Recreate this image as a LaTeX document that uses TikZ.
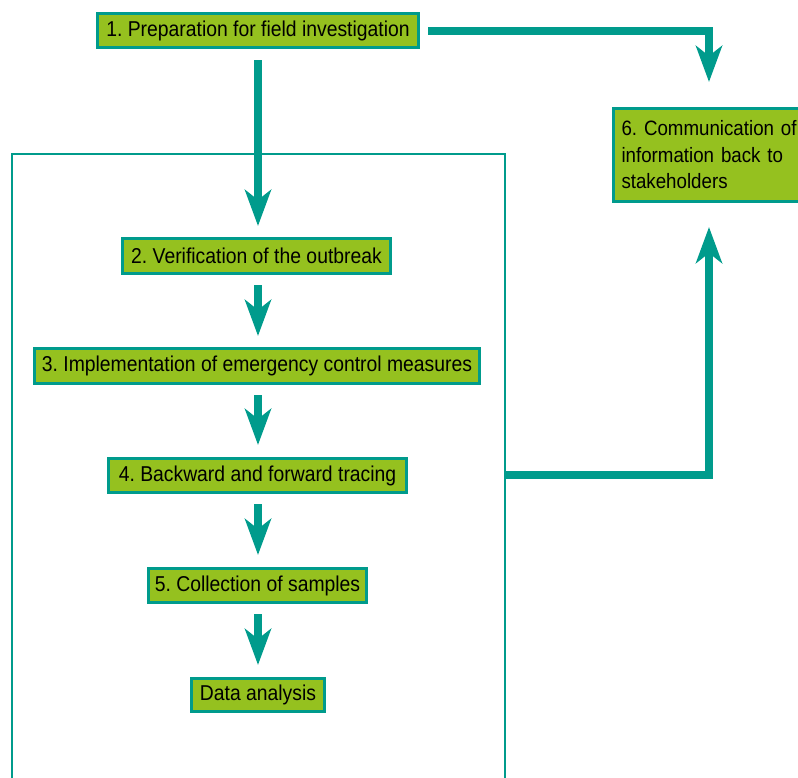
\documentclass[tikz,border=0pt]{standalone}
\usepackage{fontspec}
\setmainfont{Liberation Sans}[FakeStretch=0.9]
\usetikzlibrary{arrows.meta}
\definecolor{tealc}{HTML}{009B8C}
\definecolor{limec}{HTML}{95C11F}
\begin{document}
\frenchspacing
\begin{tikzpicture}[x=1pt,y=-1pt,
  box/.style={draw=tealc,fill=limec,line width=3pt,inner sep=0pt,
    font=\fontsize{21.5}{27}\selectfont,text=black},
  flow/.style={draw=tealc,line width=8pt,
    -{Stealth[length=36pt,width=26pt,inset=10pt]}},
  framel/.style={draw=tealc,line width=2pt}]
\useasboundingbox (0,0) rectangle (798,777);
% frame
\draw[framel] (11.5,800) -- (11.5,154) -- (504.5,154) -- (504.5,800);
\coordinate (fr) at (504.5,475);
% boxes
\node[box,minimum width=321pt,minimum height=34pt] (b1) at (258,30.5) {1. Preparation for field investigation};
\node[box,minimum width=268pt,minimum height=35pt] (b2) at (256.5,256) {2. Verification of the outbreak};
\node[box,minimum width=445pt,minimum height=35pt] (b3) at (257,366) {3. Implementation of emergency control measures};
\node[box,minimum width=298pt,minimum height=34pt] (b4) at (257.5,475.5) {4. Backward and forward tracing};
\node[box,minimum width=218pt,minimum height=34pt] (b5) at (257.5,585.5) {5. Collection of samples};
\node[box,minimum width=133pt,minimum height=33pt] (da) at (258,695) {Data analysis};
\node[box,anchor=north west,minimum height=93pt,font=\fontsize{20.8}{26.5}\selectfont,
  text width=190pt,align=left,inner xsep=8pt] (b6) at (612,107)
  {6. Communication of\\information back to\\stakeholders};
% connectors
\draw[flow,shorten <=11pt,shorten >=11pt] (b1.south) -- (b1.south |- b2.north);
\draw[flow,shorten <=10pt,shorten >=11pt] (b2.south -| b1.south) -- (b1.south |- b3.north);
\draw[flow,shorten <=10pt,shorten >=12pt] (b3.south -| b1.south) -- (b1.south |- b4.north);
\draw[flow,shorten <=10pt,shorten >=12pt] (b4.south -| b1.south) -- (b1.south |- b5.north);
\draw[flow,shorten <=10pt,shorten >=12pt] (b5.south -| b1.south) -- (b1.south |- da.north);
\coordinate (c6) at (709,107);
\draw[flow,shorten <=8pt,shorten >=25pt] (b1.east) -| (c6);
\coordinate (c6s) at (709,203);
\draw[flow,shorten >=24pt] (fr) -| (c6s);
\end{tikzpicture}
\end{document}
